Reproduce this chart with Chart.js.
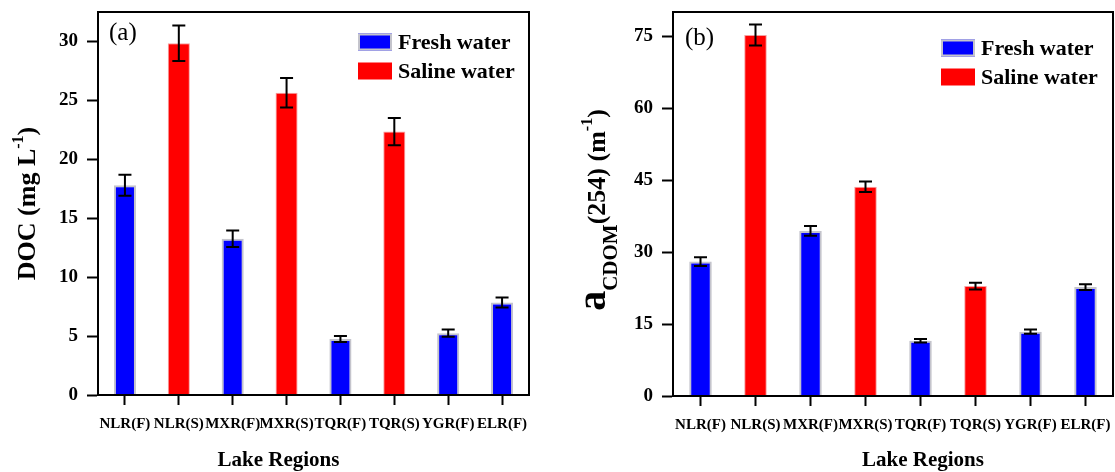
<!DOCTYPE html>
<html>
<head>
<meta charset="utf-8">
<script src="https://cdn.jsdelivr.net/npm/chart.js@4.4.1/dist/chart.umd.min.js"></script>
<style>
  html, body { margin: 0; padding: 0; background: #fff; }
  #wrap { position: relative; width: 1115px; height: 472px; overflow: hidden; }
  .panel { position: absolute; top: 0; }
</style>
</head>
<body>
<div id="wrap">
  <div class="panel" style="left:0"><canvas id="docChart" width="560" height="472"></canvas></div>
  <div class="panel" style="left:560px"><canvas id="cdomChart" width="555" height="472"></canvas></div>
</div>
<script>
const regions = ['NLR(F)', 'NLR(S)', 'MXR(F)', 'MXR(S)', 'TQR(F)', 'TQR(S)', 'YGR(F)', 'ELR(F)'];

// (a) DOC, mg L-1
const docFresh     = [17.8, null, 13.25, null, 4.75, null, 5.25, 7.85];
const docFreshErr  = [0.9, null, 0.7, null, 0.25, null, 0.3, 0.42];
const docSaline    = [null, 29.85, null, 25.65, null, 22.35, null, null];
const docSalineErr = [null, 1.5, null, 1.25, null, 1.15, null, null];
const docTicks     = [0, 5, 10, 15, 20, 25, 30];

// (b) aCDOM(254), m-1
const cdomFresh     = [28.0, null, 34.4, null, 11.5, null, 13.4, 22.7];
const cdomFreshErr  = [0.9, null, 1.0, null, 0.35, null, 0.45, 0.6];
const cdomSaline    = [null, 75.2, null, 43.6, null, 22.9, null, null];
const cdomSalineErr = [null, 2.2, null, 1.1, null, 0.7, null, null];
const cdomTicks     = [0, 15, 30, 45, 60, 75];

const SERIF = '"Liberation Serif", "Times New Roman", serif';

// per-canvas extras (tag, titles, legend spot); kept out of chart options
// so Chart.js doesn't proxy the run objects
const decorById = {};

function fontStr(run) {
    return 'bold ' + run.size + 'px ' + SERIF;
}

// Writes a row of text pieces (sub/superscripts via dy), centred on x
function drawRuns(ctx, runs, x, y) {
    let total = 0;
    runs.forEach(r => { ctx.font = fontStr(r); total += ctx.measureText(r.text).width; });
    let cx = x - total / 2;
    runs.forEach(r => {
        ctx.font = fontStr(r);
        ctx.fillText(r.text, cx, y + r.dy);
        cx += ctx.measureText(r.text).width;
    });
}

// symmetric error bars on top of each bar
const errorBars = {
    id: 'errorBars',
    afterDatasetsDraw(chart) {
        const ctx = chart.ctx;
        const yScale = chart.scales.y;
        ctx.save();
        ctx.strokeStyle = '#000';
        ctx.lineWidth = 2;
        chart.data.datasets.forEach((ds, di) => {
            const meta = chart.getDatasetMeta(di);
            ds.data.forEach((v, i) => {
                const err = ds.errors[i];
                if (v == null || err == null) return;
                const bx = meta.data[i].x;
                const top = yScale.getPixelForValue(v + err);
                const bot = yScale.getPixelForValue(v - err);
                ctx.beginPath();
                ctx.moveTo(bx, top); ctx.lineTo(bx, bot);
                ctx.moveTo(bx - 6.5, top); ctx.lineTo(bx + 6.5, top);
                ctx.moveTo(bx - 6.5, bot); ctx.lineTo(bx + 6.5, bot);
                ctx.stroke();
            });
        });
        ctx.restore();
    }
};

// frame, panel tag, axis titles and the in-plot legend
const panelDecor = {
    id: 'panelDecor',
    afterDraw(chart) {
        const d = decorById[chart.canvas.id];
        const ctx = chart.ctx;
        const a = chart.chartArea;
        ctx.save();
        ctx.strokeStyle = '#000';
        ctx.lineWidth = 2;
        ctx.strokeRect(a.left, a.top, a.right - a.left, a.bottom - a.top);

        ctx.fillStyle = '#000';
        ctx.textBaseline = 'middle';
        ctx.textAlign = 'left';
        ctx.font = 'normal 25px ' + SERIF;
        ctx.fillText(d.tag, a.left + d.tagDx, a.top + d.tagDy);

        // legend
        chart.data.datasets.forEach((ds, i) => {
            const bx = a.right - d.legendDx;
            const by = a.top + d.legendDy + i * 29;
            ctx.fillStyle = ds.backgroundColor;
            ctx.fillRect(bx, by - 8.5, 34, 17);
            if (ds.legendEdge) {
                ctx.strokeStyle = ds.legendEdge;
                ctx.lineWidth = 2;
                ctx.strokeRect(bx + 1, by - 7.5, 32, 15);
            }
            ctx.fillStyle = '#000';
            ctx.font = 'bold 22px ' + SERIF;
            ctx.fillText(ds.label, bx + 40, by + 1);
        });

        // x title
        ctx.textBaseline = 'alphabetic';
        drawRuns(ctx, [{ text: 'Lake Regions', size: 21, dy: 0 }], (a.left + a.right) / 2 + d.xTitleShift, d.xTitleY);

        // rotated y title
        ctx.translate(d.yTitleX, (a.top + a.bottom) / 2 + d.yTitleDy);
        ctx.rotate(-Math.PI / 2);
        drawRuns(ctx, d.yTitle, 0, 0);
        ctx.restore();
    }
};

function renderPanel(canvasId, fresh, freshErr, saline, salineErr, yMax, ticks, yAxisWidth, xAxisHeight, padRight, decor) {
    decorById[canvasId] = decor;
    const tickFont = { family: SERIF, weight: 'bold' };
    return new Chart(document.getElementById(canvasId), {
        type: 'bar',
        data: {
            labels: regions,
            datasets: [{
                label: 'Fresh water',
                data: fresh,
                errors: freshErr,
                backgroundColor: '#0000ff',
                borderColor: '#c4c4cc',
                legendEdge: '#c4c4cc',
                borderWidth: 2,
                grouped: false,
                barPercentage: 0.41,
                categoryPercentage: 1
            }, {
                label: 'Saline water',
                data: saline,
                errors: salineErr,
                backgroundColor: '#ff0000',
                borderColor: '#f4a0a0',
                borderWidth: 1,
                grouped: false,
                barPercentage: 0.41,
                categoryPercentage: 1
            }]
        },
        options: {
            responsive: false,
            animation: false,
            devicePixelRatio: 1,
            layout: { padding: { left: 0, top: 12, right: padRight, bottom: 0 } },
            plugins: {
                legend: { display: false },
                tooltip: { enabled: false }
            },
            scales: {
                x: {
                    offset: true,
                    grid: { offset: false, drawOnChartArea: false, tickLength: 10, tickWidth: 2, tickColor: '#000' },
                    border: { display: true, color: '#000', width: 2 },
                    ticks: {
                        autoSkip: false, maxRotation: 0, minRotation: 0, padding: 10,
                        color: '#000', font: Object.assign({ size: 15 }, tickFont)
                    },
                    afterFit(s) {
                        s.height = xAxisHeight;
                        s.paddingLeft = 0; s.paddingRight = 0;
                    }
                },
                y: {
                    min: 0,
                    max: yMax,
                    grid: { drawOnChartArea: false, tickLength: 11, tickWidth: 2, tickColor: '#000' },
                    border: { display: true, color: '#000', width: 2 },
                    ticks: { padding: 9, color: '#000', font: Object.assign({ size: 19 }, tickFont) },
                    afterBuildTicks(s) { s.ticks = ticks.map(v => ({ value: v })); },
                    afterFit(s) {
                        s.width = yAxisWidth;
                        s.paddingTop = 0; s.paddingBottom = 0;
                    }
                }
            }
        },
        plugins: [errorBars, panelDecor]
    });
}

renderPanel('docChart', docFresh, docFreshErr, docSaline, docSalineErr, 32.5, docTicks, 98, 77, 31, {
    tag: '(a)', tagDx: 11, tagDy: 21,
    legendDx: 171, legendDy: 30,
    xTitleShift: -35, xTitleY: 466,
    yTitleX: 35, yTitleDy: 0,
    yTitle: [
        { text: 'DOC (mg L', size: 26, dy: 0 },
        { text: '-1', size: 16, dy: -12 },
        { text: ')', size: 26, dy: 0 }
    ]
});

renderPanel('cdomChart', cdomFresh, cdomFreshErr, cdomSaline, cdomSalineErr, 80, cdomTicks, 113, 76, 2, {
    tag: '(b)', tagDx: 12, tagDy: 26,
    legendDx: 172, legendDy: 36,
    xTitleShift: 30, xTitleY: 466,
    yTitleX: 45, yTitleDy: 6,
    yTitle: [
        { text: 'a', size: 40, dy: 0 },
        { text: 'CDOM', size: 21, dy: 12 },
        { text: '(254) (m', size: 26, dy: 0 },
        { text: '-1', size: 16, dy: -13 },
        { text: ')', size: 26, dy: 0 }
    ]
});
</script>
</body>
</html>
